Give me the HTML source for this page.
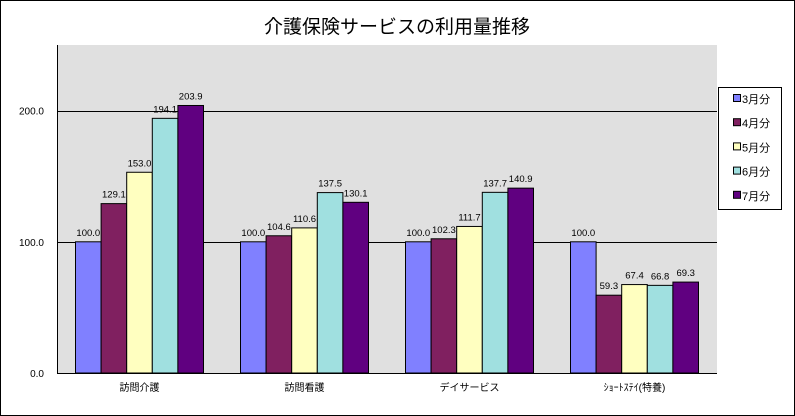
<!DOCTYPE html>
<html><head><meta charset="utf-8"><style>
html,body{margin:0;padding:0;background:#fff}
svg{display:block;font-family:"Liberation Sans","Noto Sans CJK JP",sans-serif}
</style></head><body>
<svg id="c" width="795" height="416">
<rect x="0.5" y="0.5" width="794" height="415" fill="#fff" stroke="#000"/>
<text x="397" y="33" font-size="19" text-anchor="middle">介護保険サービスの利用量推移</text>
<rect x="57" y="45" width="660" height="328" fill="#e0e0e0"/>
<g id="grid"></g><g id="bars"></g><g id="labels"></g>
<line x1="57.5" y1="45" x2="57.5" y2="373" stroke="#000"/>
<line x1="57" y1="373.5" x2="717" y2="373.5" stroke="#000"/>
<g id="legend"></g>
</svg>
<script>
const categories=["訪問介護","訪問看護","デイサービス","ｼｮｰﾄｽﾃｲ(特養)"];
const seriesNames=["3月分","4月分","5月分","6月分","7月分"];
const s3=[100.0,100.0,100.0,100.0];
const s4=[129.1,104.6,102.3,59.3];
const s5=[153.0,110.6,111.7,67.4];
const s6=[194.1,137.5,137.7,66.8];
const s7=[203.9,130.1,140.9,69.3];
const yTicks=[0,100,200];
const series=[s3,s4,s5,s6,s7];
const colors=["#8080ff","#802060","#ffffc0","#a0e0e0","#600080"];
const NS="http://www.w3.org/2000/svg";
const X0=57,W=660,Y0=373,YT=45,YMAX=250;
const y=v=>Y0-(v/YMAX)*(Y0-YT);
const gw=W/categories.length,bw=25.6,off=(gw-bw*series.length)/2;
const bx=(c,s)=>X0+c*gw+off+s*bw;
function mk(t,a,p){const e=document.createElementNS(NS,t);for(const k in a)e.setAttribute(k,a[k]);p.appendChild(e);return e;}
const grid=document.getElementById('grid'),bars=document.getElementById('bars'),lab=document.getElementById('labels'),leg=document.getElementById('legend');
yTicks.forEach(t=>{
 if(t>0){const l=mk('line',{x1:X0,x2:X0+W,y1:Math.round(y(t))+0.5,y2:Math.round(y(t))+0.5,stroke:'#000'},grid);
 
 }
 const tx=mk('text',{x:44,y:y(t)+4,'font-size':10,'text-anchor':'end'},grid);tx.textContent=t.toFixed(1);
 
 
});
categories.forEach((c,ci)=>{
 const t=mk('text',{x:X0+ci*gw+gw/2,y:391,'font-size':10,'text-anchor':'middle'},lab);t.textContent=c;
 
 
 series.forEach((s,si)=>{
  const v=s[ci];
  const r=mk('rect',{x:bx(ci,si),y:y(v),width:bw,height:Y0-y(v),fill:colors[si],stroke:'#000','stroke-width':1},bars);
  
  
  const vt=mk('text',{x:bx(ci,si)+bw/2,y:y(v)-6,'font-size':9.5,'text-anchor':'middle'},lab);vt.textContent=v.toFixed(1);
  
  
 });
});
const lb=mk('rect',{x:718.5,y:87.5,width:63,height:122,fill:'#fff',stroke:'#000'},leg);


seriesNames.forEach((n,i)=>{
 const yy=99+i*24.2;
 const sw=mk('rect',{x:733.5,y:yy-4.5,width:7,height:7,fill:colors[i],stroke:'#000'},leg);
 
 
 const t=mk('text',{x:742,y:yy+4,'font-size':11},leg);t.textContent=n;
 
 
});
</script>
</body></html>
